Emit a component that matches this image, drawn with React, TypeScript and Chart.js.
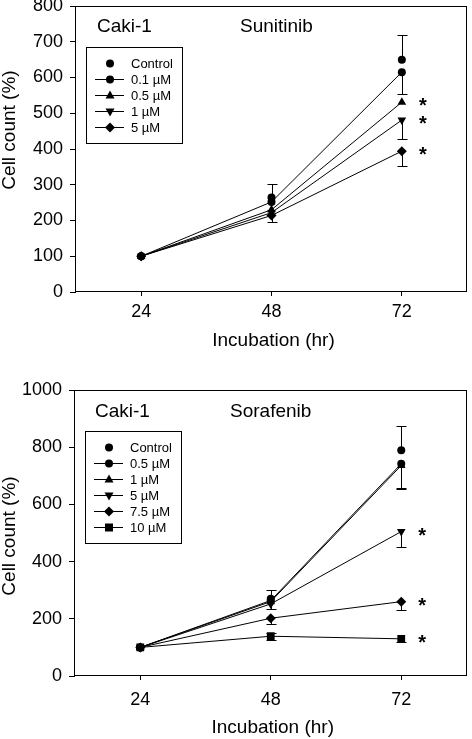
import React, { useEffect, useRef } from "react";
import { Chart, registerables } from "chart.js";

Chart.register(...registerables);
Chart.defaults.font.family = '"Liberation Sans", Arial, sans-serif';
Chart.defaults.font.size = 18;

const FONT = '"Liberation Sans", Arial, sans-serif';

// ---------- data ----------
const hours = [24, 48, 72];
const xTicks = [24, 48, 72];

// Panel 1: Sunitinib
const sunLabels = ["Control", "0.1 µM", "0.5 µM", "1 µM", "5 µM"];
const sunControl = [100, 264, 650];
const sun01 = [100, 252, 615];
const sun05 = [100, 230, 531];
const sun1 = [100, 222, 481];
const sun5 = [100, 214, 394];
const sunControlErrUp = [0, 38, 70];
const sun01ErrDown = [0, 0, 61];
const sun1ErrDown = [0, 0, 54];
const sun5ErrDown = [0, 17, 42];
const sunStarred = ["0.5 µM", "1 µM", "5 µM"];

// Panel 2: Sorafenib
const sorLabels = ["Control", "0.5 µM", "1 µM", "5 µM", "7.5 µM", "10 µM"];
const sorControl = [100, 270, 789];
const sor05 = [100, 264, 742];
const sor1 = [100, 260, 736];
const sor5 = [100, 252, 505];
const sor75 = [100, 202, 260];
const sor10 = [100, 139, 130];
const sorControlErrUp = [0, 30, 84];
const sor05ErrDown = [0, 0, 84];
const sor1ErrDown = [0, 0, 83];
const sor5ErrDown = [0, 16, 54];
const sor75ErrDown = [0, 19, 30];
const sor10ErrUp = [0, 10, 0];
const sor10ErrDown = [0, 12, 12];
const sorStarred = ["5 µM", "7.5 µM", "10 µM"];

type Marker = "circle" | "triangle" | "triangleDown" | "diamond" | "square";
type Series = {
  label: string;
  data: number[];
  marker: Marker;
  line: boolean;
  errUp?: number[];
  errDown?: number[];
};

const sunSeries: Series[] = [
  { label: sunLabels[0], data: sunControl, marker: "circle", line: false, errUp: sunControlErrUp },
  { label: sunLabels[1], data: sun01, marker: "circle", line: true, errDown: sun01ErrDown },
  { label: sunLabels[2], data: sun05, marker: "triangle", line: true },
  { label: sunLabels[3], data: sun1, marker: "triangleDown", line: true, errDown: sun1ErrDown },
  { label: sunLabels[4], data: sun5, marker: "diamond", line: true, errDown: sun5ErrDown },
];

const sorSeries: Series[] = [
  { label: sorLabels[0], data: sorControl, marker: "circle", line: false, errUp: sorControlErrUp },
  { label: sorLabels[1], data: sor05, marker: "circle", line: true, errDown: sor05ErrDown },
  { label: sorLabels[2], data: sor1, marker: "triangle", line: true, errDown: sor1ErrDown },
  { label: sorLabels[3], data: sor5, marker: "triangleDown", line: true, errDown: sor5ErrDown },
  { label: sorLabels[4], data: sor75, marker: "diamond", line: true, errDown: sor75ErrDown },
  { label: sorLabels[5], data: sor10, marker: "square", line: true, errUp: sor10ErrUp, errDown: sor10ErrDown },
];

type Panel = {
  height: number;
  top: number;
  padTop: number;
  left: number;
  right: number;
  xAxisHeight: number;
  xPad: number;
  yMax: number;
  yStep: number;
  drug: string;
  series: Series[];
  starred: string[];
  yTitleY: number;
  xTitleY: number;
  headY: number;
  cakiX: number;
  drugX: number;
  legendX: number;
  legendY: number;
};

const panels: Panel[] = [
  {
    height: 360, top: 0, padTop: 6, left: 76, right: 469, xAxisHeight: 68, xPad: 5,
    yMax: 800, yStep: 100, drug: "Sunitinib", series: sunSeries, starred: sunStarred,
    yTitleY: 130, xTitleY: 341, headY: 27, cakiX: 97, drugX: 240, legendX: 86, legendY: 47,
  },
  {
    height: 359, top: 380, padTop: 10, left: 75, right: 469, xAxisHeight: 63, xPad: 9,
    yMax: 1000, yStep: 200, drug: "Sorafenib", series: sorSeries, starred: sorStarred,
    yTitleY: 156, xTitleY: 348, headY: 32, cakiX: 95, drugX: 230, legendX: 85, legendY: 51,
  },
];

const markerStyle: Record<Marker, { pointStyle: any; rotation: number; radius: number }> = {
  circle: { pointStyle: "circle", rotation: 0, radius: 4 },
  triangle: { pointStyle: "triangle", rotation: 0, radius: 5 },
  triangleDown: { pointStyle: "triangle", rotation: 180, radius: 5 },
  diamond: { pointStyle: "rectRot", rotation: 0, radius: 5 },
  square: { pointStyle: "rect", rotation: 0, radius: 5.5 },
};

function drawMarker(ctx: CanvasRenderingContext2D, m: Marker, x: number, y: number) {
  ctx.beginPath();
  if (m === "circle") {
    ctx.arc(x, y, 4, 0, Math.PI * 2);
  } else if (m === "triangle") {
    ctx.moveTo(x, y - 5);
    ctx.lineTo(x + 4.5, y + 3);
    ctx.lineTo(x - 4.5, y + 3);
  } else if (m === "triangleDown") {
    ctx.moveTo(x, y + 5);
    ctx.lineTo(x + 4.5, y - 3);
    ctx.lineTo(x - 4.5, y - 3);
  } else if (m === "diamond") {
    ctx.moveTo(x, y - 5);
    ctx.lineTo(x + 5, y);
    ctx.lineTo(x, y + 5);
    ctx.lineTo(x - 5, y);
  } else {
    ctx.rect(x - 4, y - 4, 8, 8);
  }
  ctx.closePath();
  ctx.fill();
}

const panelPlugin = {
  id: "panel",
  beforeDatasetsDraw(chart: any, _args: any, p: Panel) {
    const ctx: CanvasRenderingContext2D = chart.ctx;
    const xs = chart.scales.x;
    const ys = chart.scales.y;
    ctx.save();
    ctx.strokeStyle = "#000";
    ctx.lineWidth = 1;
    p.series.forEach((s) => {
      [s.errUp, s.errDown].forEach((errs, k) => {
        if (!errs) return;
        errs.forEach((e, i) => {
          if (!e) return;
          const x = Math.round(xs.getPixelForValue(hours[i])) + 0.5;
          const y0 = ys.getPixelForValue(s.data[i]);
          const v = k === 0 ? s.data[i] + e : s.data[i] - e;
          const y1 = Math.round(ys.getPixelForValue(v)) + 0.5;
          ctx.beginPath();
          ctx.moveTo(x, y0);
          ctx.lineTo(x, y1);
          ctx.moveTo(x - 5, y1);
          ctx.lineTo(x + 5, y1);
          ctx.stroke();
        });
      });
    });
    ctx.restore();
  },
  afterDraw(chart: any, _args: any, p: Panel) {
    const ctx: CanvasRenderingContext2D = chart.ctx;
    const a = chart.chartArea;
    const xs = chart.scales.x;
    const ys = chart.scales.y;
    ctx.save();
    // frame
    ctx.strokeStyle = "#000";
    ctx.lineWidth = 1;
    ctx.strokeRect(Math.round(a.left) - 0.5, Math.round(a.top) + 0.5, Math.round(a.right - a.left), Math.round(a.bottom - a.top) - 1);

    ctx.fillStyle = "#000";
    // y title
    ctx.save();
    ctx.translate(10, p.yTitleY);
    ctx.rotate(-Math.PI / 2);
    ctx.font = `19px ${FONT}`;
    ctx.textAlign = "center";
    ctx.textBaseline = "middle";
    ctx.fillText("Cell count (%)", 0, 0);
    ctx.restore();

    // x title
    ctx.font = `19px ${FONT}`;
    ctx.textAlign = "center";
    ctx.textBaseline = "middle";
    ctx.fillText("Incubation (hr)", (a.left + a.right) / 2 + 2, p.xTitleY);

    // headers
    ctx.textAlign = "left";
    ctx.fillText("Caki-1", p.cakiX, p.headY);
    ctx.fillText(p.drug, p.drugX, p.headY);

    // legend
    const rows = p.series.length;
    const lw = 96;
    const lh = rows * 16 + 16;
    ctx.strokeRect(p.legendX + 0.5, p.legendY + 0.5, lw, lh);
    ctx.font = `13px ${FONT}`;
    ctx.textBaseline = "middle";
    p.series.forEach((s, i) => {
      const y = p.legendY + 16 + i * 16;
      if (s.line) {
        ctx.beginPath();
        ctx.moveTo(p.legendX + 9, Math.round(y) + 0.5);
        ctx.lineTo(p.legendX + 38, Math.round(y) + 0.5);
        ctx.stroke();
      }
      drawMarker(ctx, s.marker, p.legendX + 24, y + 0.5);
      ctx.fillText(s.label, p.legendX + 45, y + 1);
    });

    // asterisks
    ctx.font = `bold 20px ${FONT}`;
    ctx.textAlign = "center";
    ctx.textBaseline = "alphabetic";
    p.series.forEach((s) => {
      if (!p.starred.includes(s.label)) return;
      const x = xs.getPixelForValue(72) + 21;
      const y = ys.getPixelForValue(s.data[2]) - 2;
      ctx.fillText("*", x, y + 12);
    });
    ctx.restore();
  },
};

function PanelChart({ p }: { p: Panel }) {
  const ref = useRef<HTMLCanvasElement | null>(null);
  useEffect(() => {
    if (!ref.current) return;
    const datasets = p.series.map((s) => {
      const ms = markerStyle[s.marker];
      return {
        label: s.label,
        data: s.data.map((v, i) => ({ x: hours[i], y: v })),
        showLine: s.line,
        borderColor: "#000",
        backgroundColor: "#000",
        borderWidth: 1,
        pointStyle: ms.pointStyle,
        rotation: ms.rotation,
        pointRotation: ms.rotation,
        pointRadius: ms.radius,
        pointBorderWidth: 0,
        pointBackgroundColor: "#000",
        pointBorderColor: "#000",
        tension: 0,
      };
    });
    const tickFont = { family: FONT, size: 18 };
    const chart = new Chart(ref.current, {
      type: "scatter",
      data: { datasets: datasets as any },
      options: {
        animation: false,
        responsive: false,
        maintainAspectRatio: false,
        devicePixelRatio: 1,
        layout: { padding: { top: p.padTop, right: 472 - p.right, left: 0, bottom: 0 } },
        plugins: {
          legend: { display: false },
          tooltip: { enabled: false },
          panel: p,
        } as any,
        scales: {
          x: {
            type: "linear",
            min: 12,
            max: 84,
            afterBuildTicks: (s: any) => {
              s.ticks = xTicks.map((v) => ({ value: v }));
            },
            afterFit: (s: any) => {
              s.height = p.xAxisHeight;
              s.paddingLeft = 0;
              s.paddingRight = 0;
            },
            border: { display: false },
            grid: { drawOnChartArea: false, color: "#000", tickLength: 4, lineWidth: 1 },
            ticks: {
              color: "#000",
              font: tickFont,
              padding: p.xPad,
              maxRotation: 0,
              autoSkip: false,
              callback: (v: any) => String(v),
            },
          },
          y: {
            type: "linear",
            min: 0,
            max: p.yMax,
            afterFit: (s: any) => {
              s.width = p.left;
              s.paddingTop = 0;
              s.paddingBottom = 0;
            },
            border: { display: false },
            grid: { drawOnChartArea: false, color: "#000", tickLength: 6, lineWidth: 1 },
            ticks: {
              stepSize: p.yStep,
              color: "#000",
              font: tickFont,
              padding: 7,
              callback: (v: any) => String(v),
            },
          },
        },
      },
      plugins: [panelPlugin as any],
    });
    return () => chart.destroy();
  }, [p]);
  return (
    <canvas
      ref={ref}
      width={472}
      height={p.height}
      style={{ position: "absolute", left: 0, top: p.top, width: 472, height: p.height }}
    />
  );
}

export default function App() {
  return (
    <div style={{ position: "absolute", left: 0, top: 0, width: 472, height: 739, background: "#fff", overflow: "hidden" }}>
      {panels.map((p, i) => (
        <PanelChart key={i} p={p} />
      ))}
    </div>
  );
}
